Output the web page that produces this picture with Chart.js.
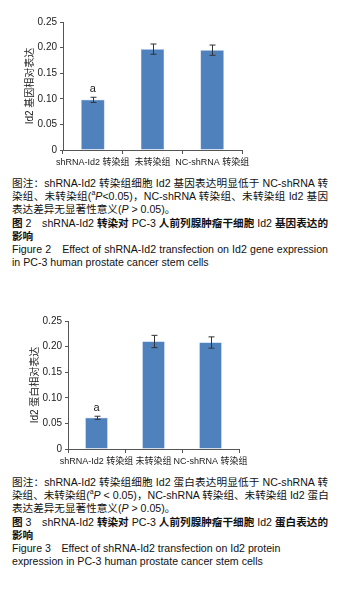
<!DOCTYPE html>
<html>
<head>
<meta charset="utf-8">
<script src="https://cdn.jsdelivr.net/npm/chart.js@4"></script>
<style>
  html, body { margin: 0; padding: 0; background: #fff; }
  body { width: 360px; height: 595px; position: relative; overflow: hidden; }
  .fig { position: absolute; left: 0; }
  .cap {
    position: absolute; left: 12px; width: 316px;
    font-family: "Liberation Sans", "Noto Sans CJK SC", sans-serif;
    font-size: 10.6px; line-height: 13.2px; color: #111;
  }
  .cap div { white-space: nowrap; }
  .cap .j { text-align: justify; text-align-last: justify; }
  .cap b { font-weight: bold; }
  .cap sup { font-size: 7px; line-height: 0; }
</style>
</head>
<body>
<div class="fig" style="top:0px"><canvas id="chartGene" width="360" height="172"></canvas></div>
<div class="cap" style="top:177px">
  <div class="j">图注：shRNA-Id2 转染组细胞 Id2 基因表达明显低于 NC-shRNA 转</div>
  <div class="j">染组、未转染组(<sup>a</sup><i>P</i>&lt;0.05)，NC-shRNA 转染组、未转染组 Id2 基因</div>
  <div>表达差异无显著性意义(<i>P</i> &gt; 0.05)。</div>
  <div class="j"><b>图</b> 2　shRNA-Id2 <b>转染对</b> PC-3 <b>人前列腺肿瘤干细胞</b> Id2 <b>基因表达的</b></div>
  <div><b>影响</b></div>
  <div class="j">Figure 2　Effect of shRNA-Id2 transfection on Id2 gene expression</div>
  <div>in PC-3 human prostate cancer stem cells</div>
</div>

<div class="fig" style="top:299px"><canvas id="chartProtein" width="360" height="172"></canvas></div>
<div class="cap" style="top:476px">
  <div class="j">图注：shRNA-Id2 转染组细胞 Id2 蛋白表达明显低于 NC-shRNA 转</div>
  <div class="j">染组、未转染组(<sup>a</sup><i>P</i> &lt; 0.05)，NC-shRNA 转染组、未转染组 Id2 蛋白</div>
  <div>表达差异无显著性意义(<i>P</i> &gt; 0.05)。</div>
  <div class="j"><b>图</b> 3　shRNA-Id2 <b>转染对</b> PC-3 <b>人前列腺肿瘤干细胞</b> Id2 <b>蛋白表达的</b></div>
  <div><b>影响</b></div>
  <div>Figure 3　Effect of shRNA-Id2 transfection on Id2 protein</div>
  <div>expression in PC-3 human prostate cancer stem cells</div>
</div>

<script>
const grupos = ['shRNA-Id2 转染组', '未转染组', 'NC-shRNA 转染组'];
const yTicks = [0, 0.05, 0.10, 0.15, 0.20, 0.25];
const marcas = ['a', '', ''];

// figure 2: gene expression
const geneMedia = [0.098, 0.197, 0.195];
const geneErro = [0.005, 0.010, 0.010];

// figure 3: protein expression
const proteinaMedia = [0.061, 0.210, 0.208];
const proteinaErro = [0.003, 0.012, 0.011];

const fonte = 'Liberation Sans, Noto Sans CJK SC, sans-serif';

// draws the error bars and the 'a' marks from the y scale
const errorBars = {
    id: 'errorBars',
    afterDatasetsDraw(chart, args, opts) {
        const ctx = chart.ctx;
        const y = chart.scales.y;
        const meta = chart.getDatasetMeta(0);
        ctx.save();
        ctx.strokeStyle = '#333';
        ctx.lineWidth = 1;
        meta.data.forEach((bar, i) => {
            const x = Math.round(bar.x) + 0.5;
            const hi = y.getPixelForValue(opts.media[i] + opts.erro[i]);
            const lo = y.getPixelForValue(opts.media[i] - opts.erro[i]);
            ctx.beginPath();
            ctx.moveTo(x, hi); ctx.lineTo(x, lo);
            ctx.moveTo(x - 3, hi); ctx.lineTo(x + 3, hi);
            ctx.moveTo(x - 3, lo); ctx.lineTo(x + 3, lo);
            ctx.stroke();
            if (opts.marcas[i]) {
                ctx.fillStyle = '#222';
                ctx.font = '11px ' + fonte;
                ctx.textAlign = 'center';
                ctx.textBaseline = 'bottom';
                ctx.fillText(opts.marcas[i], bar.x, hi - 3);
            }
        });
        ctx.restore();
    }
};

function criarGrafico(id, media, erro, titulo, padLeft, padRight) {
    return new Chart(document.getElementById(id), {
        type: 'bar',
        data: {
            labels: grupos,
            datasets: [{
                data: media,
                backgroundColor: '#4f81bd',
                borderColor: '#5a8ccb',
                borderWidth: 0.5,
                barPercentage: 0.39,
                categoryPercentage: 1
            }]
        },
        options: {
            responsive: false,
            animation: false,
            layout: { padding: { left: padLeft, right: padRight, top: 22, bottom: 0 } },
            plugins: {
                legend: { display: false },
                tooltip: { enabled: false },
                errorBars: { media: media, erro: erro, marcas: marcas }
            },
            scales: {
                x: {
                    afterFit: s => { s.height = 22; },
                    border: { color: '#555', width: 1 },
                    grid: { drawOnChartArea: false, drawTicks: true, tickLength: 4, color: '#555', offset: true },
                    ticks: {
                        color: '#222',
                        font: { family: fonte, size: 9 },
                        padding: 3,
                        maxRotation: 0,
                        autoSkip: false
                    }
                },
                y: {
                    min: 0,
                    max: 0.25,
                    afterFit: s => { s.width = 43; },
                    afterBuildTicks: s => { s.ticks = yTicks.map(v => ({ value: v })); },
                    border: { color: '#555', width: 1 },
                    grid: { drawOnChartArea: false, drawTicks: true, tickLength: 3, color: '#555' },
                    ticks: {
                        color: '#222',
                        font: { family: fonte, size: 10 },
                        padding: 3,
                        callback: v => v === 0 ? '0' : v.toFixed(2)
                    },
                    title: {
                        display: true,
                        text: titulo,
                        color: '#222',
                        font: { family: fonte, size: 10 },
                        padding: { top: 4, bottom: 0 }
                    }
                }
            }
        },
        plugins: [errorBars]
    });
}

criarGrafico('chartGene', geneMedia, geneErro, 'Id2 基因相对表达', 20, 118);
criarGrafico('chartProtein', proteinaMedia, proteinaErro, 'Id2 蛋白相对表达', 25, 121);
</script>
</body>
</html>
